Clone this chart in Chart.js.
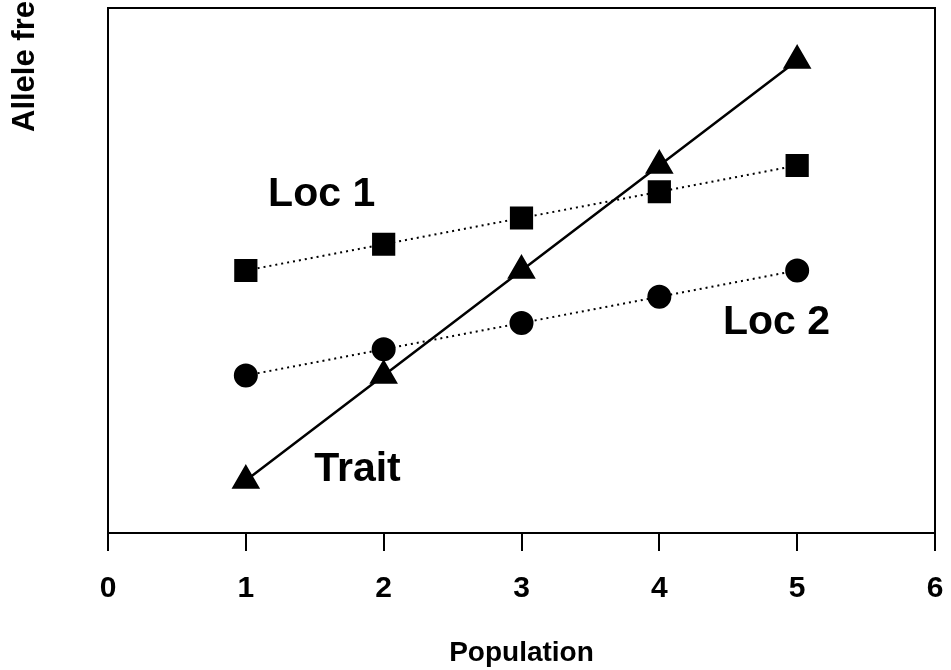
<!DOCTYPE html>
<html>
<head>
<meta charset="utf-8">
<script src="https://cdn.jsdelivr.net/npm/chart.js@4/dist/chart.umd.min.js"></script>
<style>
  html, body { margin: 0; padding: 0; background: #fff; }
  #wrap { width: 951px; height: 670px; }
</style>
</head>
<body>
<div id="wrap"><canvas id="chart" width="951" height="670"></canvas></div>
<script>
// data
const populations = [1, 2, 3, 4, 5];
const traitValues = [0.10, 0.30, 0.50, 0.70, 0.90];
const loc1Values = [0.50, 0.55, 0.60, 0.65, 0.70];
const loc2Values = [0.30, 0.35, 0.40, 0.45, 0.50];
const xTicks = [0, 1, 2, 3, 4, 5, 6];

const seriesNames = ["Trait", "Loc 1", "Loc 2"];
// label anchors in data units
const labelAt = [
    { text: "Loc 1", x: 1.55, y: 0.645 },
    { text: "Loc 2", x: 4.85, y: 0.40 },
    { text: "Trait", x: 1.81, y: 0.12 }
];

function toPts(vals) {
    return populations.map((p, i) => ({ x: p, y: vals[i] }));
}

/* ===== frame round the plot + y title + series labels ===== */
const extrasPlugin = {
    id: "extras",
    afterDraw(chart) {
        const { ctx, chartArea: a, scales } = chart;
        ctx.save();
        ctx.strokeStyle = "#000";
        ctx.lineWidth = 2;
        ctx.strokeRect(a.left, a.top, a.right - a.left, a.bottom - a.top);

        // y title, cut off at the top like the scan
        ctx.fillStyle = "#000";
        ctx.font = "bold 31px 'Liberation Sans', Arial, sans-serif";
        ctx.translate(34, 132);
        ctx.rotate(-Math.PI / 2);
        ctx.textAlign = "left";
        ctx.textBaseline = "alphabetic";
        ctx.fillText("Allele frequency", 0, 0);
        ctx.restore();

        ctx.save();
        ctx.fillStyle = "#000";
        ctx.font = "bold 41px 'Liberation Sans', Arial, sans-serif";
        ctx.textAlign = "center";
        ctx.textBaseline = "middle";
        labelAt.forEach(l => {
            ctx.fillText(l.text, scales.x.getPixelForValue(l.x), scales.y.getPixelForValue(l.y));
        });
        ctx.restore();
    }
};

new Chart(document.getElementById("chart"), {
    type: "scatter",
    data: {
        datasets: [
            {
                label: seriesNames[0],
                data: toPts(traitValues),
                showLine: true,
                borderColor: "#000",
                backgroundColor: "#000",
                borderWidth: 2.5,
                pointStyle: "triangle",
                pointRadius: 14,
                pointHoverRadius: 14
            },
            {
                label: seriesNames[1],
                data: toPts(loc1Values),
                showLine: true,
                borderColor: "#000",
                backgroundColor: "#000",
                borderWidth: 2,
                borderDash: [2, 4],
                pointStyle: "rect",
                pointRadius: 15,
                pointHoverRadius: 15
            },
            {
                label: seriesNames[2],
                data: toPts(loc2Values),
                showLine: true,
                borderColor: "#000",
                backgroundColor: "#000",
                borderWidth: 2,
                borderDash: [2, 4],
                pointStyle: "circle",
                pointRadius: 11,
                pointHoverRadius: 11
            }
        ]
    },
    options: {
        responsive: false,
        animation: false,
        layout: { autoPadding: false, padding: { left: 0, right: 16, top: 8, bottom: 0 } },
        plugins: { legend: { display: false }, tooltip: { enabled: false } },
        scales: {
            x: {
                type: "linear",
                min: 0,
                max: 6,
                afterBuildTicks: (s) => { s.ticks = xTicks.map(v => ({ value: v })); },
                ticks: {
                    color: "#000",
                    padding: 20,
                    font: { family: "'Liberation Sans', Arial, sans-serif", size: 30, weight: "bold" }
                },
                grid: { drawOnChartArea: false, drawTicks: true, tickLength: 18, color: "#000", lineWidth: 2 },
                border: { display: true, color: "#000", width: 2 },
                title: {
                    display: true,
                    text: "Population",
                    color: "#000",
                    padding: { top: 14, bottom: 0 },
                    font: { family: "'Liberation Sans', Arial, sans-serif", size: 28, weight: "bold" }
                },
                afterFit: (s) => { s.height = 137; s.paddingLeft = 0; s.paddingRight = 0; }
            },
            y: {
                min: 0,
                max: 1,
                ticks: { display: false },
                grid: { display: false },
                border: { display: true, color: "#000", width: 2 },
                afterFit: (s) => { s.width = 108; }
            }
        }
    },
    plugins: [extrasPlugin]
});
</script>
</body>
</html>
